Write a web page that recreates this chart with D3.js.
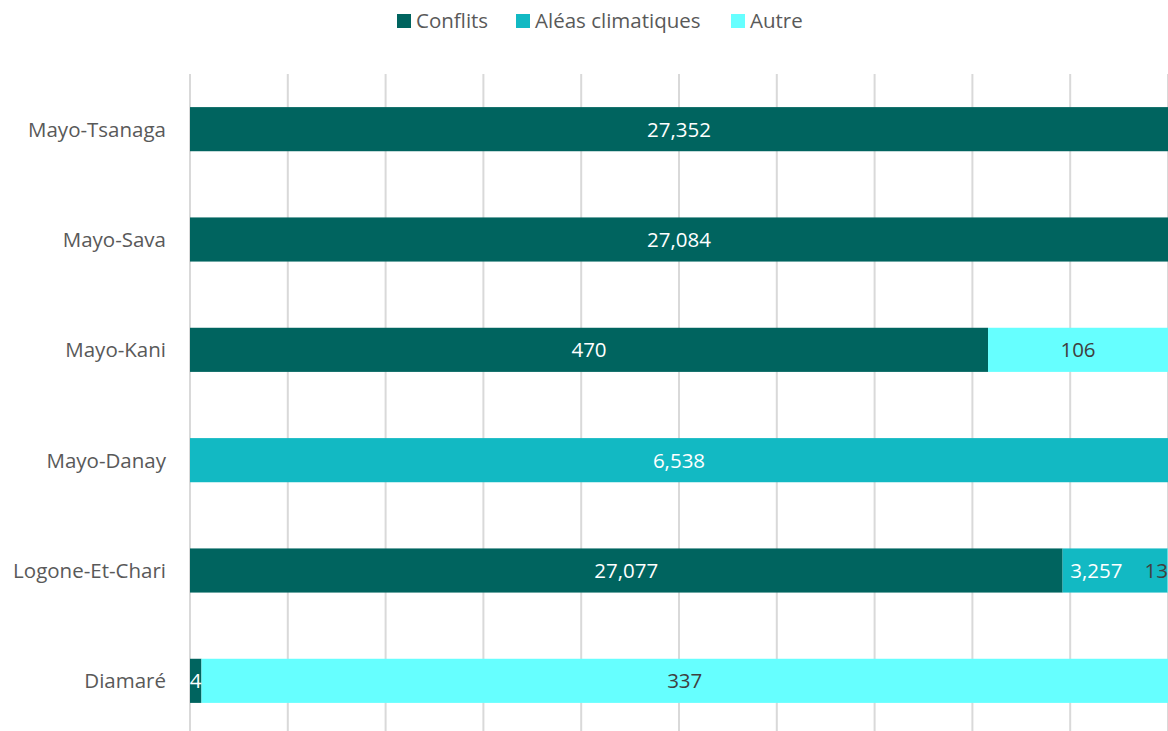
<!DOCTYPE html>
<meta charset="utf-8">
<head>
  <title>Déplacements par département</title>
  <script src="https://d3js.org/d3.v7.min.js"></script>
  <style>
    body { margin: 0; background: #fff; }
    text { font-family: "Open Sans", "Noto Sans", sans-serif; }
    .grid line { stroke: #d9d9d9; stroke-width: 2px; }
    .cat text { fill: #595959; font-size: 20.5px; }
    .legend text { fill: #595959; font-size: 20.5px; }
  </style>
</head>
<body>
<svg width="1168" height="731"></svg>
<script>
  var categories = ["Mayo-Tsanaga", "Mayo-Sava", "Mayo-Kani", "Mayo-Danay", "Logone-Et-Chari", "Diamaré"];
  var seriesNames = ["Conflits", "Aléas climatiques", "Autre"];
  var conflits = [27352, 27084, 470, 0, 27077, 4];
  var aleas = [0, 0, 0, 6538, 3257, 0];
  var autre = [0, 0, 106, 0, 13, 337];
  var colors = ["#00645f", "#12b9c3", "#66ffff"];
  var labelColors = ["#ffffff", "#ffffff", "#404040"];

  var svg = d3.select("svg"),
    width = 1168,
    height = 731,
    plotLeft = 190,
    plotRight = 1168,
    plotTop = 74,
    plotBottom = 736;

  var rows = categories.map(function(c, i) {
    var vals = [conflits[i], aleas[i], autre[i]];
    var total = d3.sum(vals), acc = 0;
    return { name: c, segs: vals.map(function(v, k) {
      var s = { k: k, v: v, x0: acc / total, x1: (acc + v) / total };
      acc += v;
      return s;
    }).filter(function(s) { return s.v > 0; }) };
  });

  var x = d3.scaleLinear().domain([0, 1]).range([plotLeft, plotRight]);
  var y = d3.scaleBand().domain(categories).range([plotTop, plotBottom])
    .paddingInner(0.6).paddingOuter(0.3);

  // gridlines
  svg.append("g").attr("class", "grid")
    .selectAll("line").data(d3.range(0, 1.0001, 0.1))
    .enter().append("line")
      .attr("x1", function(d) { return x(d); })
      .attr("x2", function(d) { return x(d); })
      .attr("y1", plotTop).attr("y2", height);

  var row = svg.append("g").selectAll("g").data(rows)
    .enter().append("g")
      .attr("transform", function(d) { return "translate(0," + y(d.name) + ")"; });

  row.selectAll("rect").data(function(d) { return d.segs; })
    .enter().append("rect")
      .attr("x", function(d) { return x(d.x0); })
      .attr("width", function(d) { return x(d.x1) - x(d.x0); })
      .attr("height", y.bandwidth())
      .attr("fill", function(d) { return colors[d.k]; });

  row.each(function(d) {
    var labels = d3.select(this).selectAll("text").data(d.segs)
      .enter().append("text")
        .attr("y", y.bandwidth() / 2)
        .attr("dy", "0.36em")
        .attr("text-anchor", "middle")
        .style("font-size", "20.5px")
        .attr("fill", function(s) { return labelColors[s.k]; })
        .text(function(s) { return d3.format(",")(s.v); });
    // centre labels, then push them inside the plot and apart from each other
    var nodes = labels.nodes();
    var cx = d.segs.map(function(s) { return (x(s.x0) + x(s.x1)) / 2; });
    var w = nodes.map(function(n) { return n.getComputedTextLength(); });
    var limit = plotRight;
    for (var i = nodes.length - 1; i >= 0; i--) {
      if (cx[i] + w[i] / 2 > limit) cx[i] = limit - w[i] / 2;
      limit = cx[i] - w[i] / 2 - 22;
    }
    labels.attr("x", function(s, i) { return cx[i]; });
  });

  // category labels
  svg.append("g").attr("class", "cat")
    .selectAll("text").data(categories)
    .enter().append("text")
      .attr("x", plotLeft - 24)
      .attr("y", function(d) { return y(d) + y.bandwidth() / 2; })
      .attr("dy", "0.36em")
      .attr("text-anchor", "end")
      .text(function(d) { return d; });

  // legend
  var legendX = [397, 516, 731];
  var lg = svg.append("g").attr("class", "legend")
    .selectAll("g").data(seriesNames)
    .enter().append("g")
      .attr("transform", function(d, i) { return "translate(" + legendX[i] + ",14)"; });
  lg.append("rect").attr("width", 14).attr("height", 14)
    .attr("fill", function(d, i) { return colors[i]; });
  lg.append("text").attr("x", 19).attr("y", 7).attr("dy", "0.36em")
    .text(function(d) { return d; });
</script>
</body>
